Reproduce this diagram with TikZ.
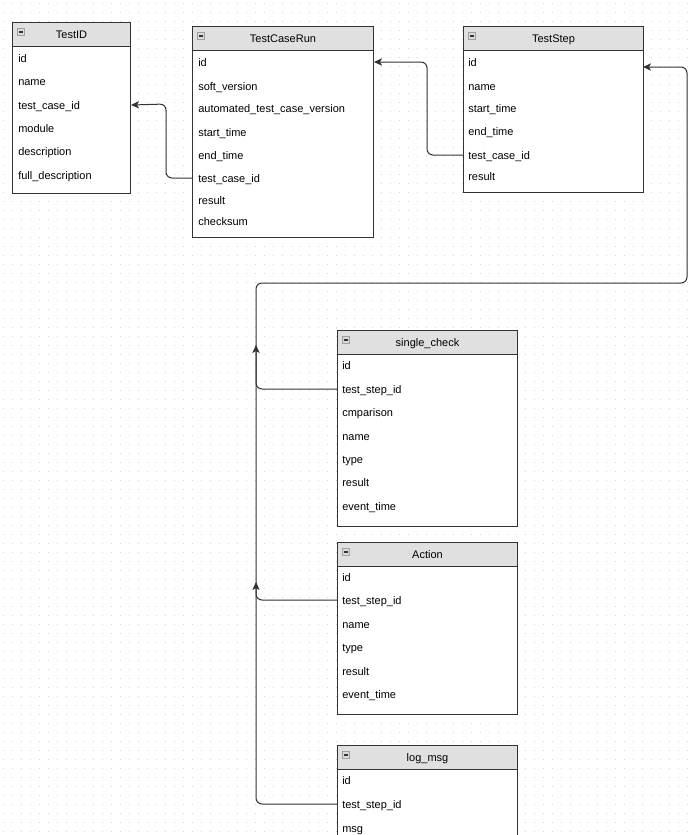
\documentclass[tikz,border=0pt]{standalone}
\usepackage{fontspec}
\setmainfont{Liberation Sans}
\usetikzlibrary{arrows.meta,calc}
\definecolor{edge}{HTML}{333333}
\definecolor{headfill}{HTML}{E0E0E0}
\definecolor{griddot}{HTML}{D2D2D2}
\tikzset{
  tbox/.style={draw=edge, line width=0.75pt, fill=white, rectangle, anchor=north west, inner sep=0pt},
  thead/.style={draw=edge, line width=0.75pt, fill=headfill, rectangle, anchor=north west, inner sep=0pt,
    font=\fontsize{8.25pt}{10pt}\selectfont, text height=6pt, text depth=0pt},
  iconbox/.style={draw=gray!75, fill=gray!30, line width=0.5pt, rectangle, minimum size=5.6pt, inner sep=0pt,
    path picture={\draw[gray!40!black, line width=1pt]
      ($(path picture bounding box.west)+(1.3pt,0)$) -- ($(path picture bounding box.east)+(-1.3pt,0)$);}},
  rowtxt/.style={anchor=west, inner sep=0pt, font=\fontsize{8.25pt}{10pt}\selectfont, text height=6pt, text depth=0pt},
  conn/.style={draw=edge, line width=0.75pt, rounded corners=4.5pt, -{Stealth[length=6pt,width=5.5pt,inset=1.5pt]}}
}
% #1 name, #2 left x, #3 top y, #4 width, #5 height, #6 header height, #7 title
\newcommand\ertable[7]{%
  \node[tbox, minimum width=#4*0.75pt, minimum height=#5*0.75pt] (#1) at (#2,#3) {};
  \node[thead, minimum width=#4*0.75pt, minimum height=#6*0.75pt] (#1-h) at (#2,#3) {#7};
  \node[iconbox] (#1-i) at (#2+9,#3+10) {};
}
\newcommand\errow[4]{% #1 name, #2 x, #3 y, #4 text
  \node[rowtxt] (#1) at (#2,#3) {#4};
}
\begin{document}
\begin{tikzpicture}[x=0.75pt,y=-0.75pt]
\useasboundingbox (0,0) rectangle (695,835);
\fill[white] (0,0) rectangle (695,835);
% dotted grid
\foreach \j in {0,...,92} {
  \draw[griddot, line width=0.75pt, dash pattern=on 0.75pt off 6pt] (2.8,3.3+9*\j) -- (695,3.3+9*\j);
}
\begin{scope}
\clip (0,0) rectangle (695,835);
% TestID
\ertable{tid}{12}{22}{118}{171}{24}{TestID}
\errow{tid-r1}{18}{58.5}{id}
\errow{tid-r2}{18}{81.8}{name}
\errow{tid-r3}{18}{105}{test\_case\_id}
\errow{tid-r4}{18}{128.4}{module}
\errow{tid-r5}{18}{151.7}{description}
\errow{tid-r6}{18}{175}{full\_description}
% TestCaseRun
\ertable{tcr}{192}{26}{181}{211}{23.5}{TestCaseRun}
\errow{tcr-r1}{198}{62}{id}
\errow{tcr-r2}{198}{86}{soft\_version}
\errow{tcr-r3}{198}{108}{automated\_test\_case\_version}
\errow{tcr-r4}{198}{132}{start\_time}
\errow{tcr-r5}{198}{155}{end\_time}
\errow{tcr-r6}{198}{178}{test\_case\_id}
\errow{tcr-r7}{198}{200}{result}
\errow{tcr-r8}{198}{221}{checksum}
% TestStep
\ertable{ts}{463}{26}{180}{166}{23.5}{TestStep}
\errow{ts-r1}{468}{62}{id}
\errow{ts-r2}{468}{86}{name}
\errow{ts-r3}{468}{108}{start\_time}
\errow{ts-r4}{468}{131}{end\_time}
\errow{ts-r5}{468}{155}{test\_case\_id}
\errow{ts-r6}{468}{176}{result}
% single_check
\ertable{sc}{337}{330}{180}{196}{24}{single\_check}
\errow{sc-r1}{342}{365}{id}
\errow{sc-r2}{342}{389}{test\_step\_id}
\errow{sc-r3}{342}{412}{cmparison}
\errow{sc-r4}{342}{436}{name}
\errow{sc-r5}{342}{459}{type}
\errow{sc-r6}{342}{482}{result}
\errow{sc-r7}{342}{506}{event\_time}
% Action
\ertable{act}{337}{542}{180}{172}{23.5}{Action}
\errow{act-r1}{342}{577}{id}
\errow{act-r2}{342}{600}{test\_step\_id}
\errow{act-r3}{342}{624}{name}
\errow{act-r4}{342}{647}{type}
\errow{act-r5}{342}{671}{result}
\errow{act-r6}{342}{694}{event\_time}
% log_msg
\ertable{log}{337}{745}{180}{140}{24}{log\_msg}
\errow{log-r1}{342}{780}{id}
\errow{log-r2}{342}{804}{test\_step\_id}
\errow{log-r3}{342}{828}{msg}
\end{scope}
% connectors
\coordinate (ts-in) at (643,67);
\coordinate (act-tip) at (256,345);
\coordinate (log-tip) at (256,582);
\draw[conn] (tcr.west |- tcr-r6) -- (166,178) -- (166,104) -- (tid.east |- tid-r3);
\draw[conn] (ts.west |- ts-r5) -- (427,155) -- (427,62) -- (tcr.east |- tcr-r1);
\draw[conn] (sc.west |- sc-r2) -- (256,389) -- (256,283) -- (687,283) -- (687,67) -- (ts-in);
\draw[conn] (act.west |- act-r2) -- (256,600) -- (act-tip);
\draw[conn] (log.west |- log-r2) -- (256,804) -- (log-tip);
\end{tikzpicture}
\end{document}
